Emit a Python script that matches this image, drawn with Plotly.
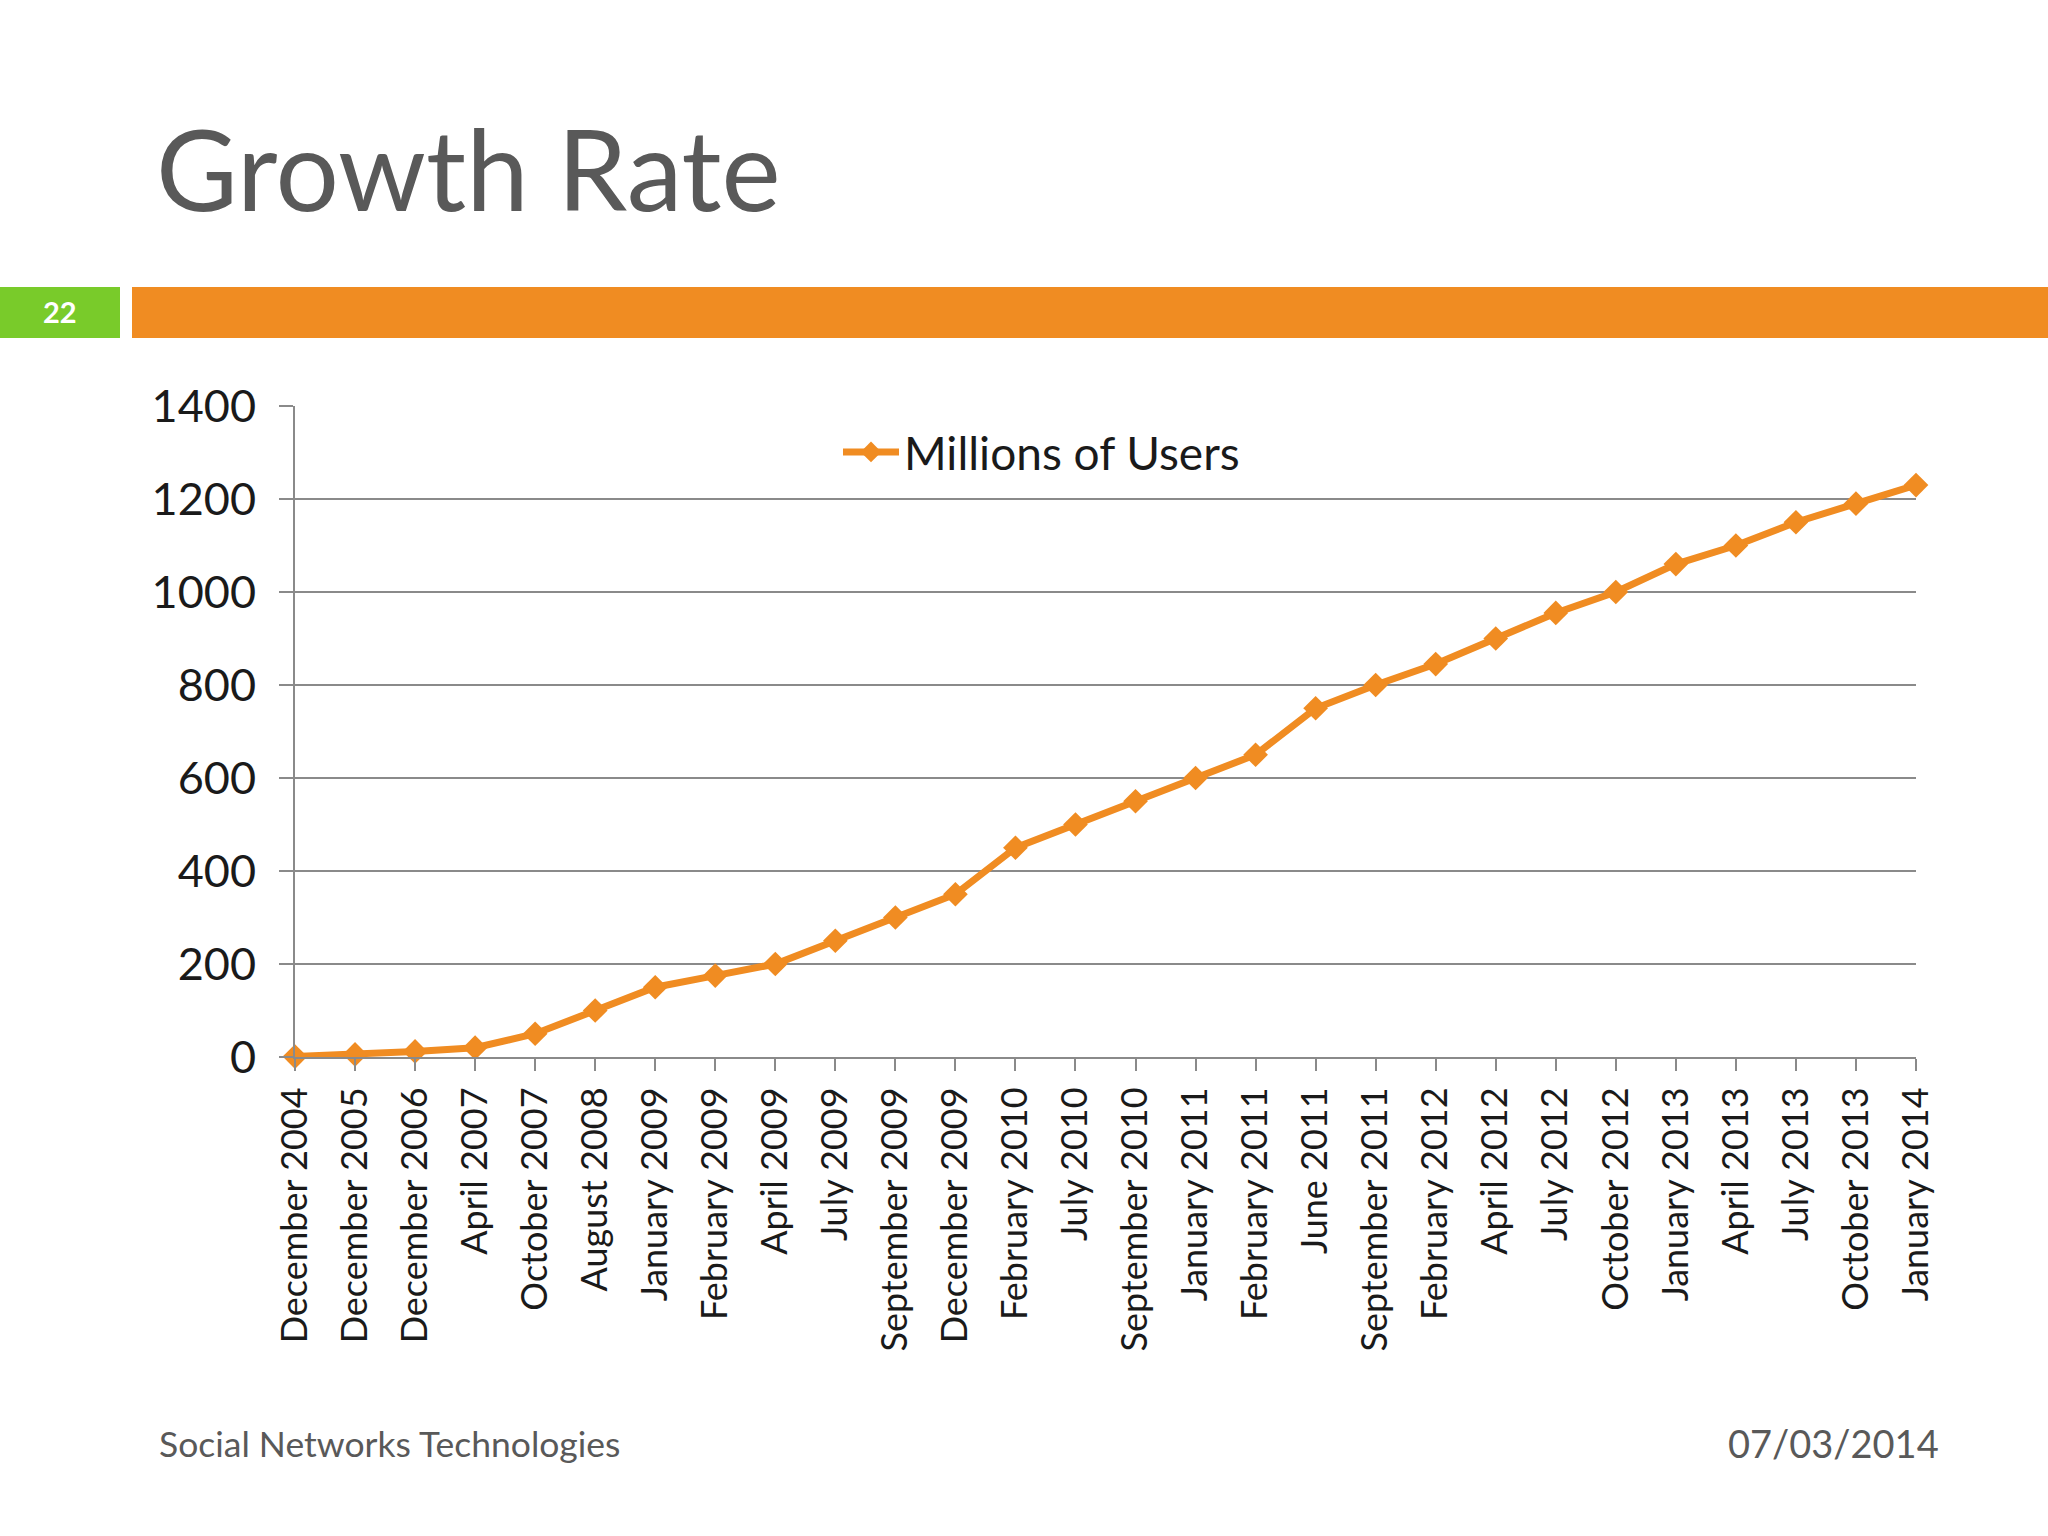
import plotly.graph_objects as go

months = [
    "December 2004", "December 2005", "December 2006", "April 2007", "October 2007",
    "August 2008", "January 2009", "February 2009", "April 2009", "July 2009",
    "September 2009", "December 2009", "February 2010", "July 2010", "September 2010",
    "January 2011", "February 2011", "June 2011", "September 2011", "February 2012",
    "April 2012", "July 2012", "October 2012", "January 2013", "April 2013",
    "July 2013", "October 2013", "January 2014",
]
users_millions = [
    1, 5.5, 12, 20, 50, 100, 150, 175, 200, 250, 300, 350, 450, 500, 550,
    600, 650, 750, 800, 845, 900, 955, 1000, 1060, 1100, 1150, 1190, 1230,
]
series_name = "Millions of Users"
y_ticks = [0, 200, 400, 600, 800, 1000, 1200, 1400]

W, H = 2048, 1536
ORANGE = "#F08C22"
GREEN = "#79CB2A"
GRID = "#8A8A8A"
FONT = "Lato"

def px_x(p):
    return p / W

def px_y(p):
    return 1 - p / H

fig = go.Figure()
fig.add_trace(go.Scatter(
    x=months, y=users_millions, name=series_name, mode="lines+markers",
    line=dict(color=ORANGE, width=7),
    marker=dict(symbol="diamond", size=19, color=ORANGE),
    cliponaxis=False,
))

fig.update_layout(
    width=W, height=H,
    margin=dict(l=0, r=0, t=0, b=0),
    paper_bgcolor="white", plot_bgcolor="white",
    font=dict(family=FONT, color="#1a1a1a"),
    xaxis=dict(
        domain=[px_x(295), px_x(1916)],
        type="category", range=[0, len(months) - 1],
        tickangle=-90, tickfont=dict(size=36, color="#1a1a1a", family=FONT),
        showgrid=False, showline=True, linecolor=GRID, linewidth=2,
        ticks="outside", ticklen=12, tickcolor=GRID, tickwidth=2,
        ticklabelstandoff=2,
        automargin=False, zeroline=False,
    ),
    yaxis=dict(
        domain=[px_y(1057), px_y(406)],
        range=[0, 1400], tickvals=y_ticks,
        tickfont=dict(size=45, color="#1a1a1a", family=FONT),
        showgrid=True, gridcolor=GRID, gridwidth=2,
        showline=True, linecolor=GRID, linewidth=2,
        ticks="outside", ticklen=14, tickcolor=GRID, tickwidth=2,
        ticklabelstandoff=14,
        automargin=False, zeroline=False,
    ),
    showlegend=True,
    legend=dict(
        x=px_x(838), y=px_y(452), xanchor="left", yanchor="middle",
        font=dict(size=46, color="#1a1a1a", family=FONT),
        bgcolor="rgba(0,0,0,0)", itemwidth=56,
    ),
    shapes=[
        dict(type="rect", xref="paper", yref="paper",
             x0=0, x1=px_x(120), y0=px_y(338), y1=px_y(287),
             fillcolor=GREEN, line=dict(width=0), layer="below"),
        dict(type="rect", xref="paper", yref="paper",
             x0=px_x(132), x1=1, y0=px_y(338), y1=px_y(287),
             fillcolor=ORANGE, line=dict(width=0), layer="below"),
    ],
    annotations=[
        dict(text="Growth Rate", xref="paper", yref="paper",
             x=px_x(154), y=px_y(167), xanchor="left", yanchor="middle",
             showarrow=False, font=dict(size=112, color="#595959", family=FONT)),
        dict(text="<b>22</b>", xref="paper", yref="paper",
             x=px_x(60), y=px_y(311), xanchor="center", yanchor="middle",
             showarrow=False, font=dict(size=29, color="white", family=FONT)),
        dict(text="Social Networks Technologies", xref="paper", yref="paper",
             x=px_x(157), y=px_y(1443), xanchor="left", yanchor="middle",
             showarrow=False, font=dict(size=35.5, color="#595959", family=FONT)),
        dict(text="07/03/2014", xref="paper", yref="paper",
             x=px_x(1941), y=px_y(1443), xanchor="right", yanchor="middle",
             showarrow=False, font=dict(size=38, color="#595959", family=FONT)),
    ],
)

fig.write_html(
    "out.html",
    config={"displayModeBar": False},
    post_script="document.body.style.margin='0';document.body.style.padding='0';",
)
